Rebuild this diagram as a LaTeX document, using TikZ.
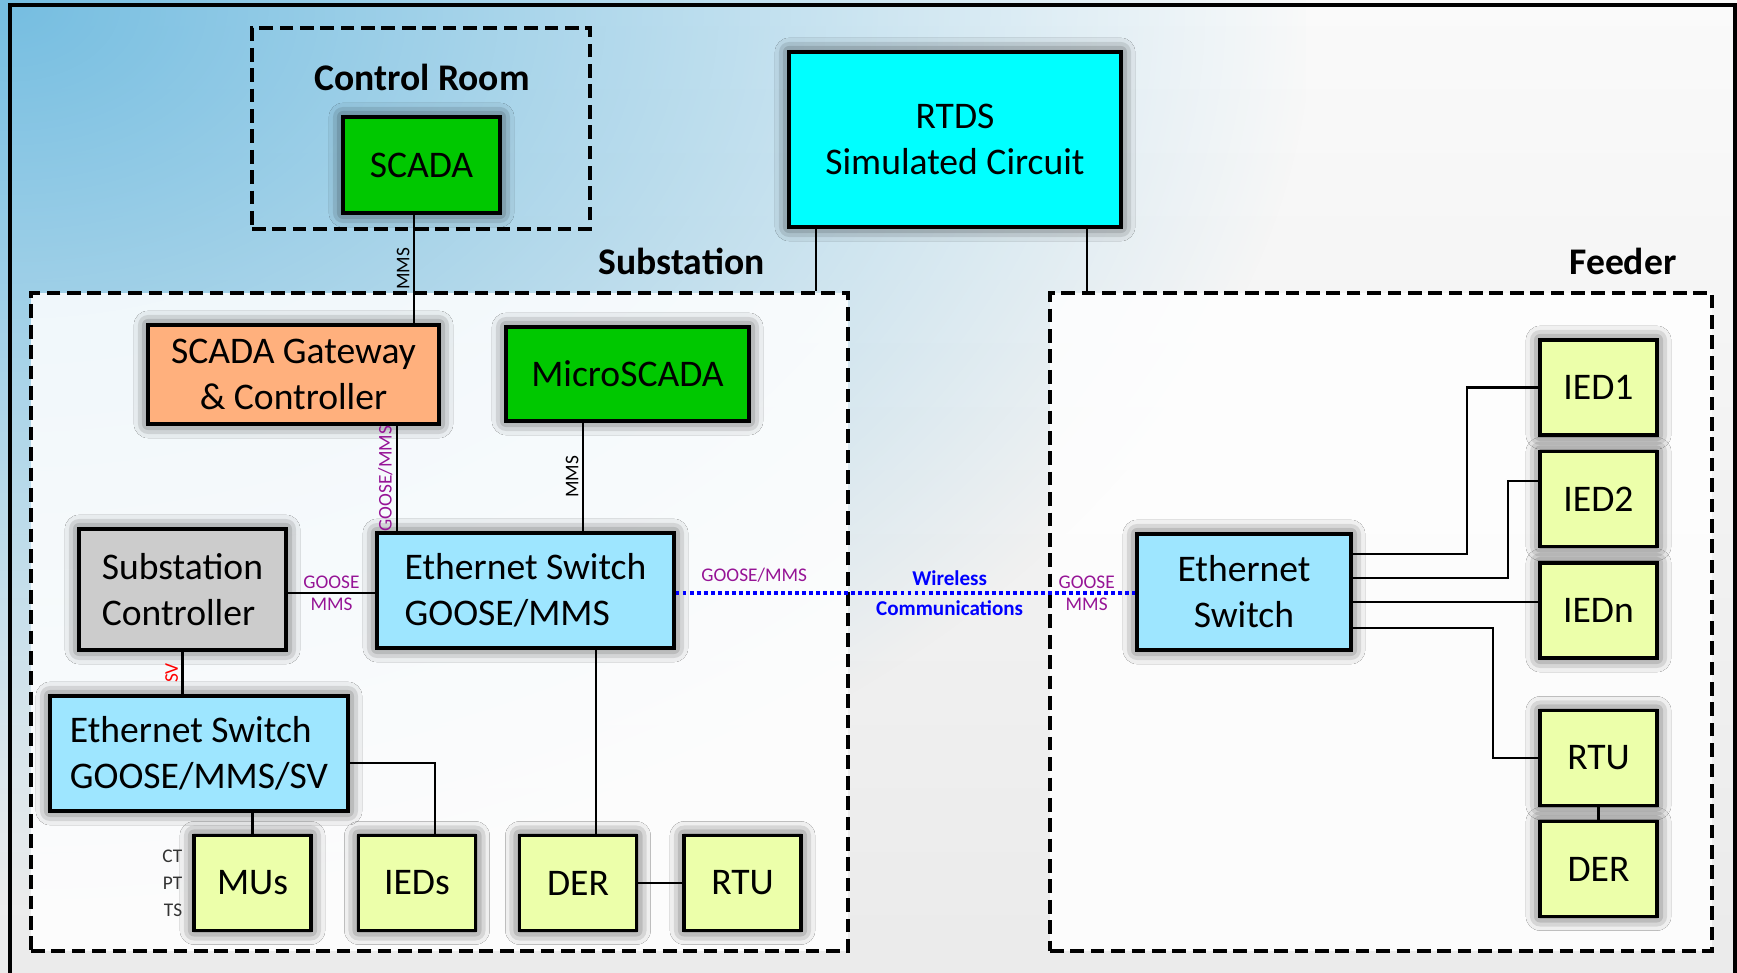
\documentclass[tikz,border=0pt]{standalone}
\usepackage{fontspec}
\setmainfont{Carlito}
\usepackage{xcolor}
\usepackage{tikz}
\usetikzlibrary{calc, positioning, fadings, shadows.blur}

\definecolor{skyblue}{RGB}{118,190,225}
\definecolor{scadagreen}{RGB}{0,200,0}
\definecolor{gworange}{RGB}{255,176,125}
\definecolor{ctrlgray}{RGB}{204,204,204}
\definecolor{swblue}{RGB}{158,230,255}
\definecolor{rtdscyan}{RGB}{0,255,255}
\definecolor{devyellow}{RGB}{236,255,170}
\definecolor{lblpurple}{RGB}{150,20,150}

\tikzfading[name=skyfade, inner color=transparent!0, outer color=transparent!100]

\begin{document}
\begin{tikzpicture}[scale=1.0,
    box/.style={draw, line width=0.9pt, align=center, inner sep=0pt,
        font=\fontsize{10.7pt}{13.1pt}\selectfont,
        blur shadow={shadow xshift=0pt, shadow yshift=0pt,
            shadow blur radius=4pt, shadow opacity=80}},
    dev/.style={box, fill=devyellow, minimum width=1.17cm, minimum height=0.95cm},
    zone/.style={draw, line width=1.05pt, dash pattern=on 3.9pt off 1.9pt, inner sep=0pt},
    zonetitle/.style={font=\fontsize{10.7pt}{13.1pt}\selectfont\bfseries},
    link/.style={line width=0.6pt},
    wireless/.style={blue, line width=1.1pt, dash pattern=on 1.1pt off 0.9pt},
    lbl/.style={font=\fontsize{5.5pt}{7.7pt}\selectfont, inner sep=1pt, text=lblpurple},
]
    % 1. Nền gradient và khung ngoài
    \useasboundingbox (0,0) rectangle (17.37,9.72);
    \begin{scope}
        \clip (0,0) rectangle (17.37,9.72);
        \shade[top color=white!96!gray, bottom color=gray!16] (0,0) rectangle (17.37,9.72);
        \fill[skyblue, path fading=skyfade] (-12.9,0.67) rectangle (13.1,18.67);
    \end{scope}
    \draw[line width=1.1pt] (0.10,-0.1) -- (0.10,9.67) -- (17.35,9.67) -- (17.35,-0.1);

    % 2. Các vùng nét đứt
    \node[zone, minimum width=3.38cm, minimum height=2.01cm] (ctrlroom) at (4.21,8.435) {};
    \node[zone, fill=white, fill opacity=0.85, minimum width=8.17cm, minimum height=6.58cm]
        (substation) at (4.395,3.50) {};
    \node[zone, fill=white, fill opacity=0.85, minimum width=6.62cm, minimum height=6.58cm]
        (feeder) at (13.81,3.50) {};
    \node[zonetitle] (crtitle) at (4.22,8.95) {Control Room};
    \node[zonetitle, anchor=east] (subtitle) at ([xshift=-0.73cm, yshift=0.30cm]substation.north east) {Substation};
    \node[zonetitle, anchor=east] (feedtitle) at ([xshift=-0.25cm, yshift=0.30cm]feeder.north east) {Feeder};

    % 3. Các khối thiết bị
    \node[box, fill=scadagreen, minimum width=1.57cm, minimum height=0.96cm] (scada) at (4.215,8.07) {SCADA};
    \node[box, fill=rtdscyan, minimum width=3.32cm, minimum height=1.75cm] (rtds) at (9.55,8.325) {RTDS\\Simulated Circuit};
    \node[box, fill=gworange, minimum width=2.91cm, minimum height=0.99cm] (gateway) at (2.935,5.975) {SCADA Gateway\\\& Controller};
    \node[box, fill=scadagreen, minimum width=2.43cm, minimum height=0.94cm] (microscada) at (6.275,5.98) {MicroSCADA};
    \node[box, fill=ctrlgray, align=left, minimum width=2.07cm, minimum height=1.21cm] (subctrl) at (1.825,3.825) {Substation\\Controller};
    \node[box, fill=swblue, align=left, minimum width=2.97cm, minimum height=1.15cm] (swmain) at (5.255,3.815) {Ethernet Switch\\GOOSE/MMS};
    \node[box, fill=swblue, align=left, minimum width=2.98cm, minimum height=1.15cm] (swsv) at (1.99,2.185) {Ethernet Switch\\GOOSE/MMS/SV};
    \node[dev] (mus) at (2.525,0.89) {MUs};
    \node[dev] (ieds) at (4.17,0.89) {IEDs};
    \node[dev] (dersub) at (5.78,0.89) {DER};
    \node[dev] (rtusub) at (7.425,0.89) {RTU};
    \node[box, fill=swblue, minimum width=2.14cm, minimum height=1.16cm] (swfeed) at (12.44,3.80) {Ethernet\\Switch};
    \node[dev] (ied1) at (15.985,5.845) {IED1};
    \node[dev] (ied2) at (15.985,4.73) {IED2};
    \node[dev] (iedn) at (15.985,3.615) {IEDn};
    \node[dev] (rtufeed) at (15.985,2.14) {RTU};
    \node[dev] (derfeed) at (15.985,1.03) {DER};
    \node[lbl, text=black!80, align=right, anchor=east] (meas) at ([xshift=-0.06cm]mus.west) {CT\\PT\\TS};

    % 4. Đường nối trong trạm
    \draw[link] ([xshift=-0.075cm]scada.south) -- ([xshift=-0.075cm]scada.south |- gateway.north)
        node[lbl, text=black, midway, rotate=90, anchor=south] (mmsa) {MMS};
    \draw[link] ([xshift=-1.39cm]rtds.south) -- ([xshift=-1.39cm]rtds.south |- substation.north);
    \draw[link] ([xshift=1.32cm]rtds.south) -- ([xshift=1.32cm]rtds.south |- feeder.north);
    \draw[link] ([xshift=1.035cm]gateway.south) -- ([xshift=1.035cm]gateway.south |- swmain.north)
        node[lbl, midway, rotate=90, anchor=south] (gma) {GOOSE/MMS};
    \draw[link] ([xshift=-0.445cm]microscada.south) -- ([xshift=-0.445cm]microscada.south |- swmain.north)
        node[lbl, text=black, midway, rotate=90, anchor=south] (mmsb) {MMS};
    \draw[link] ([yshift=-0.025cm]swmain.west -| subctrl.east) -- ([yshift=-0.025cm]swmain.west)
        node[lbl, midway, above] (goosea) {GOOSE}
        node[lbl, midway, below] (mmsc) {MMS};
    \draw[link] (subctrl.south) -- (subctrl.south |- swsv.north)
        node[lbl, text=red, midway, rotate=90, anchor=south] (svlbl) {SV};
    \draw[link] (mus.north) -- (mus.north |- swsv.south);
    \draw[link] ([yshift=-0.095cm]swsv.east) -| ([xshift=0.18cm]ieds.north);
    \draw[link] ([xshift=0.18cm]dersub.north) -- ([xshift=0.18cm]dersub.north |- swmain.south);
    \draw[link] (dersub.east) -- (rtusub.west);

    % 5. Liên kết không dây
    \draw[wireless] ([yshift=-0.025cm]swmain.east) -- ([yshift=-0.025cm]swmain.east -| swfeed.west)
        node[lbl, pos=0.171, above=1.5pt] (gmb) {GOOSE/MMS}
        node[pos=0.596, align=center, text=blue, font=\fontsize{6pt}{8.5pt}\selectfont\bfseries] (wlbl) {Wireless\\Communications}
        node[lbl, pos=0.894, align=center, font=\fontsize{5.5pt}{6.3pt}\selectfont] (gmc) {GOOSE\\MMS};

    % 6. Đường nối phía xuất tuyến
    \draw[link] ([yshift=0.38cm]swfeed.east) -- ++(1.14,0) |- (ied1.west);
    \draw[link] ([yshift=0.14cm]swfeed.east) -- ++(1.55,0) |- ([yshift=0.18cm]ied2.west);
    \draw[link] ([yshift=-0.10cm]swfeed.east) -- ([yshift=-0.10cm]swfeed.east -| iedn.west);
    \draw[link] ([yshift=-0.36cm]swfeed.east) -- ++(1.40,0) |- (rtufeed.west);
    \draw[link] (rtufeed) -- (derfeed);
\end{tikzpicture}
\end{document}
